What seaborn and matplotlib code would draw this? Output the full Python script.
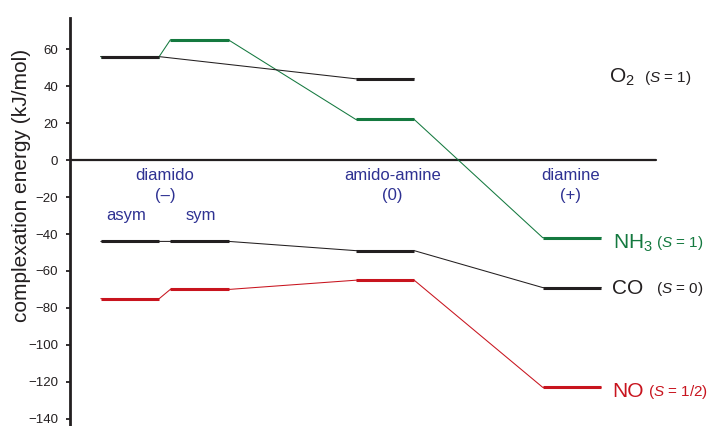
import numpy as np
import pandas as pd
import matplotlib
matplotlib.use("Agg")
import matplotlib.pyplot as plt
import seaborn as sns

# ---------------- data ----------------
levels = ["asym", "sym", "amido-amine", "diamine"]
o2_vals = [56, np.nan, 44, np.nan]
nh3_vals = [56, 65, 22, -42]
co_vals = [-44, -44, -49, -69]
no_vals = [-75, -70, -65, -123]
species_names = ["NH3", "O2", "CO", "NO"]          # drawing order
species_labels = ["NH$_3$", "O$_2$", "CO", "NO"]
spin_labels = ["($S$ = 1)", "($S$ = 1)", "($S$ = 0)", "($S$ = 1/2)"]
yticks = list(range(-140, 61, 20))
ylabel = "complexation energy (kJ/mol)"
group_top = ["diamido", "amido-amine", "diamine"]
group_charge = ["(\u2013)", "(0)", "(+)"]
sub_labels = ["asym", "sym"]

# ---------------- layout / style ----------------
xpos = [0.0, 1.0, 3.67, 6.36]
half = 0.42
colors = {"NH3": "#14793f", "O2": "#231f20", "CO": "#231f20", "NO": "#c8141e"}
blue = "#2e3192"

values = {"NH3": nh3_vals, "O2": o2_vals, "CO": co_vals, "NO": no_vals}

rows = []
for sp in species_names:
    order = 0
    for lv, x, v in zip(levels, xpos, values[sp]):
        if np.isnan(v):
            continue
        rows.append(dict(species=sp, level=lv, x=x - half, y=v, order=order)); order += 1
        rows.append(dict(species=sp, level=lv, x=x + half, y=v, order=order)); order += 1
df = pd.DataFrame(rows)

sns.set_style("ticks")
plt.rcParams["font.family"] = ["Liberation Sans", "DejaVu Sans"]
plt.rcParams["mathtext.fontset"] = "custom"
plt.rcParams["mathtext.rm"] = "Liberation Sans"
plt.rcParams["mathtext.it"] = "Liberation Sans:italic"
plt.rcParams["mathtext.bf"] = "Liberation Sans:bold"

fig = plt.figure(figsize=(7.13, 4.26), dpi=100)
ax = fig.add_axes([70 / 713, 0, 643 / 713, 408 / 426])

# thin connectors
sns.lineplot(data=df, x="x", y="y", hue="species", palette=colors,
             sort=False, estimator=None, units="species", lw=0.75,
             legend=False, ax=ax, zorder=2)

# thick level bars
for sp in species_names:
    sub = df[df.species == sp]
    for lv, g in sub.groupby("level", sort=False):
        ax.hlines(g.y.iloc[0], g.x.min(), g.x.max(), colors=colors[sp],
                  lw=2.2, zorder=3)

# zero line
ax.axhline(0, xmin=0, xmax=(7.57 + 0.863) / (8.39 + 0.863), color="#231f20",
           lw=1.6, zorder=1)

ax.set_xlim(-0.863, 8.39)
ax.set_ylim(-143.9, 76.9)
ax.set_yticks(yticks)
ax.set_yticklabels([str(t).replace("-", "\u2212") for t in yticks], fontsize=9.5,
                   color="#231f20")
ax.tick_params(axis="y", length=3, width=1.3, pad=5.5, color="#231f20")
ax.set_xticks([])
ax.set_xlabel("")
for s in ["top", "right", "bottom"]:
    ax.spines[s].set_visible(False)
ax.spines["left"].set_linewidth(2.0)
ax.spines["left"].set_color("#231f20")
ax.set_ylabel(ylabel, fontsize=15, color="#231f20")
ax.yaxis.set_label_coords(-0.061, 0.59)

# group labels
gx = [0.504, 3.78, 6.34]
for x, t, c in zip(gx, group_top, group_charge):
    ax.text(x, -8.4, t, ha="center", va="center", fontsize=12, color=blue)
    ax.text(x, -19.2, c, ha="center", va="center", fontsize=12, color=blue)
for x, t in zip([-0.05, 1.02], sub_labels):
    ax.text(x, -30.1, t, ha="center", va="center", fontsize=12, color=blue)

# species labels
lab_x = {"NH3": 6.95, "O2": 6.89, "CO": 6.94, "NO": 6.94}
lab_y = {"NH3": -43.6, "O2": 46.0, "CO": -68.5, "NO": -123.9}
spin_x = {"NH3": 7.57, "O2": 7.40, "CO": 7.57, "NO": 7.45}
for sp, lab, spin in zip(species_names, species_labels, spin_labels):
    ax.text(lab_x[sp], lab_y[sp], lab, ha="left", va="center_baseline",
            fontsize=15, color=colors[sp])
    ax.text(spin_x[sp], lab_y[sp], spin, ha="left", va="center_baseline",
            fontsize=11, color=colors[sp])

fig.savefig("out.png", dpi=100)
